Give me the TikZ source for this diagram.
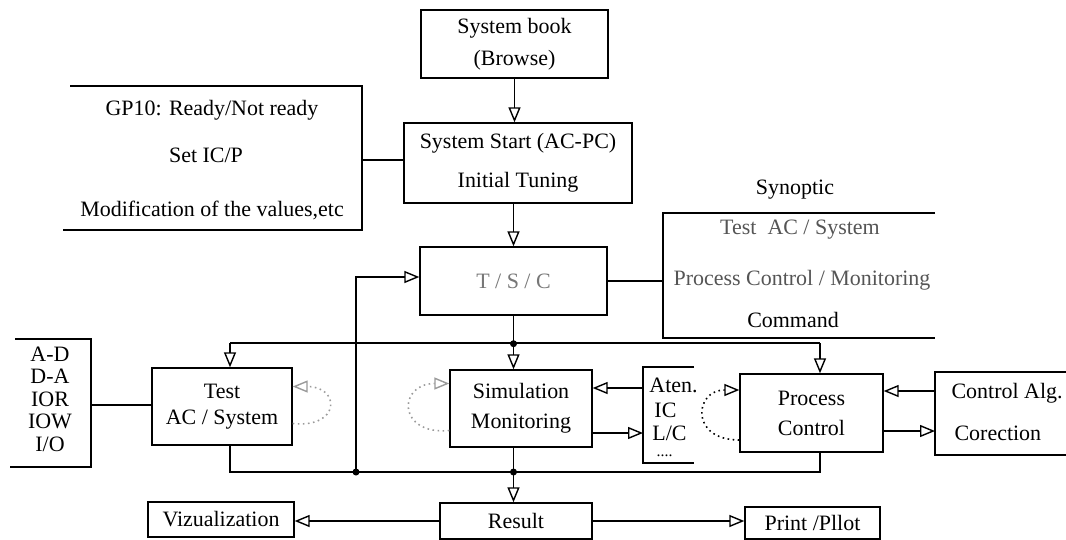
\documentclass[tikz,border=0pt]{standalone}
\usepackage{fontspec}
\setmainfont{Liberation Serif}
\usetikzlibrary{arrows.meta, positioning, calc}

\begin{document}
\begin{tikzpicture}[x=0.02cm, y=-0.02cm, line width=0.8pt,
  font=\fontsize{12.5}{15}\selectfont,
  caixa/.style={draw, align=center, inner sep=0pt},
  seta/.style={-{Triangle[open, length=0.3cm, width=0.24cm, line width=0.8pt]}},
  laco/.style={dotted, line width=0.9pt, seta},
  ponto/.style={circle, fill, inner sep=0pt, minimum size=4pt}]
% --- CORES ---
\definecolor{cinza}{HTML}{555555}
\definecolor{pontilhado}{HTML}{9A9A9A}

\useasboundingbox (0,0) rectangle (1066,539);

% LAYER 1: Cadeia superior
\node[caixa, minimum width=3.74cm, minimum height=1.36cm] (livro) at (514.5,44) {System book\\[3pt](Browse)};
\node[caixa, minimum width=4.56cm, minimum height=1.6cm] (inicio) at (518,163) {System Start (AC-PC)\\[7pt]Initial Tuning};
\node[caixa, minimum width=3.74cm, minimum height=1.36cm, text=cinza!80] (tsc) at (513.5,281) {T / S / C};
\draw[seta] (livro) -- (livro |- inicio.north);
\draw[seta] (inicio.south -| tsc) -- (tsc.north);

% LAYER 2: Colchete GP10
\draw (70,86) -- (362,86) -- (362,230) -- (63,230);
\coordinate (gp) at (362,160);
\node (gp1) at (212,110) {GP10: Ready/Not ready};
\node (gp2) at (206,155) {Set IC/P};
\node (gp3) at (212,210) {Modification of the values,etc};
\draw (gp) -- (gp -| inicio.west);

% LAYER 3: Colchete Synoptic
\node (sin0) at (795,190) {Synoptic};
\draw (935,213) -- (663,213) -- (663,338) -- (935,338);
\node[text=cinza] (sin1) at (800,230) {Test~~AC / System};
\node[text=cinza] (sin2) at (802,280) {Process Control / Monitoring};
\node (sin3) at (793,320) {Command};
\draw (tsc.east) -- (tsc.east -| 663,0);

% LAYER 4: Blocos do meio
\node[caixa, minimum width=2.8cm, minimum height=1.54cm] (teste) at (222,406.5) {Test\\AC / System};
\node[caixa, minimum width=2.84cm, minimum height=1.54cm] (simul) at (521,408.5) {Simulation\\[2pt]Monitoring};
\node[caixa, minimum width=2.86cm, minimum height=1.56cm] (proc) at (811.5,413) {Process\\[2pt]Control};

% barramento superior
\coordinate (bus) at ($(tsc.south)+(0,28)$);
\coordinate (b1) at (230,343);
\coordinate (b3) at (820,343);
\draw (tsc.south) -- (bus);
\draw (b1) -- (b3);
\draw[seta] (b1) -- (b1 |- teste.north);
\draw[seta] (bus) -- (bus |- simul.north);
\draw[seta] (b3) -- (b3 |- proc.north);
\node[ponto] (p1) at (bus) {};

% barramento inferior
\coordinate (c1) at (230,472);
\coordinate (c3) at (820,472);
\coordinate (ret) at (356,472);
\draw (b1 |- teste.south) -- (c1) -- (c3) -- (c3 |- proc.south);
\draw (bus |- simul.south) -- (bus |- c1);
\draw[seta] (ret) |- ($(tsc.west)+(0,-4)$);
\node[ponto] (p2) at (bus |- c1) {};
\node[ponto] (p3) at (ret) {};

% LAYER 5: Colchetes laterais
\draw (15,339) -- (91,339) -- (91,467) -- (10,467);
\node[align=center, font=\fontsize{12.5}{12.8}\selectfont] (ad) at (50,399) {A-D\\D-A\\IOR\\IOW\\I/O};
\coordinate (adr) at (91,405);
\draw (adr) -- (adr -| teste.west);

\draw (694,367) -- (643,367) -- (643,463) -- (694,463);
\node[anchor=west, inner sep=1pt] (at1) at (647,385) {Aten.};
\node[anchor=west, inner sep=1pt] (at2) at (652,410) {IC};
\node[anchor=west, inner sep=1pt] (at3) at (650,433) {L/C};
\node[anchor=west, inner sep=0pt, font=\fontsize{9}{9}\selectfont] (at4) at (656,456) {....};
\coordinate (ata) at (643,388);
\coordinate (atb) at (643,433);
\draw[seta] (ata) -- (ata -| simul.east);
\draw[seta] (atb -| simul.east) -- (atb);

\draw (1066,372) -- (935,372) -- (935,455) -- (1066,455);
\node[anchor=west] (ca1) at (945,393) {Control Alg.};
\node[anchor=west] (ca2) at (948,433) {Corection};
\coordinate (caa) at (935,391);
\coordinate (cab) at (935,431);
\draw[seta] (caa) -- (caa -| proc.east);
\draw[seta] (cab -| proc.east) -- (cab);

% LAYER 6: Lacos pontilhados
\draw[laco, draw=pontilhado] ($(teste.east)+(0,17)$) .. controls +(48,5) and +(48,0) .. ($(teste.east)+(0,-20)$);
\draw[laco, draw=pontilhado] ($(simul.west)+(0,22)$) .. controls +(-52,5) and +(-52,0) .. ($(simul.west)+(0,-25)$);
\draw[laco] ($(proc.west)+(0,27)$) .. controls +(-50,0) and +(-45,0) .. ($(proc.west)+(0,-23)$);

% LAYER 7: Saidas
\node[caixa, minimum width=3.04cm, minimum height=0.72cm] (resultado) at (516,521) {Result};
\node[caixa, minimum width=2.92cm, minimum height=0.7cm] (viz) at (221,519.5) {Vizualization};
\node[caixa, minimum width=2.7cm, minimum height=0.64cm] (impr) at (812.5,523) {Print /Pllot};
\draw[seta] (bus |- c1) -- (bus |- resultado.north);
\draw[seta] (resultado.west) -- (resultado.west -| viz.east);
\draw[seta] (resultado.east) -- (resultado.east -| impr.west);
\end{tikzpicture}
\end{document}
